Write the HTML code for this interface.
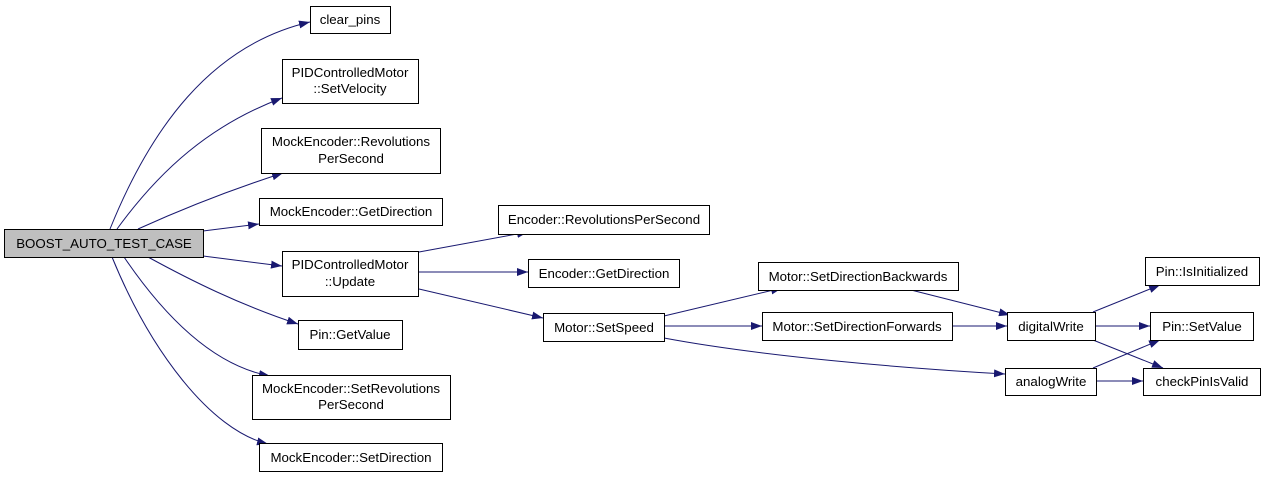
<!DOCTYPE html>
<html><head><meta charset="utf-8"><style>
html,body{margin:0;padding:0;background:#fff;}
svg{display:block;}
text{font-family:"Liberation Sans",Arial,sans-serif;font-size:13.3px;fill:#000;}
</style></head><body>
<svg width="1267" height="477" viewBox="0 0 1267 477" xmlns="http://www.w3.org/2000/svg">
<defs>
<marker id="a" markerWidth="11" markerHeight="8" refX="11" refY="4" orient="auto" markerUnits="userSpaceOnUse">
<polygon points="0,0 11,4 0,8" fill="#191970"/>
</marker>
</defs>
<g fill="none" stroke="#191970" stroke-width="1" marker-end="url(#a)">
<path d="M110,229 C150,130 210,45 310,22"/>
<path d="M117,229 C160,170 210,125 282,98"/>
<path d="M138,229 C180,210 230,190 283,173"/>
<path d="M203,231 L259,224"/>
<path d="M203,256 L282,266"/>
<path d="M148,257 C190,280 240,305 298,324"/>
<path d="M124,257 C160,310 210,365 270,376"/>
<path d="M112,257 C150,350 210,430 268,444"/>
<path d="M419,252 L528,232"/>
<path d="M419,272 L528,272"/>
<path d="M419,289 L543,318"/>
<path d="M664,316 L782,288"/>
<path d="M664,326 L762,326"/>
<path d="M664,338 C760,356 900,368 1005,374"/>
<path d="M911,290 L1010,315"/>
<path d="M952,326 L1007,326"/>
<path d="M1093,312 L1160,285"/>
<path d="M1095,326 L1150,326"/>
<path d="M1093,340 L1163,368"/>
<path d="M1093,368 L1160,340"/>
<path d="M1096,381 L1143,381"/>
</g>
<g stroke="#000" stroke-width="1" fill="#fff">
<rect x="4.5" y="229.5" width="199" height="28" fill="#bfbfbf"/>
<rect x="310.5" y="6.5" width="80" height="27"/>
<rect x="282.5" y="59.5" width="136" height="44"/>
<rect x="261.5" y="128.5" width="179" height="45"/>
<rect x="259.5" y="198.5" width="183" height="27"/>
<rect x="282.5" y="251.5" width="136" height="45"/>
<rect x="298.5" y="320.5" width="104" height="29"/>
<rect x="252.5" y="375.5" width="198" height="44"/>
<rect x="259.5" y="443.5" width="183" height="28"/>
<rect x="498.5" y="205.5" width="211" height="29"/>
<rect x="528.5" y="259.5" width="151" height="28"/>
<rect x="543.5" y="313.5" width="121" height="28"/>
<rect x="758.5" y="262.5" width="200" height="28"/>
<rect x="762.5" y="312.5" width="190" height="28"/>
<rect x="1007.5" y="312.5" width="88" height="28"/>
<rect x="1005.5" y="368.5" width="91" height="27"/>
<rect x="1145.5" y="257.5" width="114" height="28"/>
<rect x="1150.5" y="312.5" width="103" height="28"/>
<rect x="1143.5" y="368.5" width="117" height="27"/>
</g>
<g text-anchor="middle">
<text x="104" y="248">BOOST_AUTO_TEST_CASE</text>
<text x="350" y="24">clear_pins</text>
<text x="350" y="77">PIDControlledMotor</text>
<text x="350" y="93">::SetVelocity</text>
<text x="351" y="146">MockEncoder::Revolutions</text>
<text x="351" y="163">PerSecond</text>
<text x="351" y="216">MockEncoder::GetDirection</text>
<text x="350" y="269">PIDControlledMotor</text>
<text x="350" y="286">::Update</text>
<text x="350" y="339">Pin::GetValue</text>
<text x="351" y="393">MockEncoder::SetRevolutions</text>
<text x="351" y="409">PerSecond</text>
<text x="351" y="462">MockEncoder::SetDirection</text>
<text x="604" y="224">Encoder::RevolutionsPerSecond</text>
<text x="604" y="278">Encoder::GetDirection</text>
<text x="604" y="332">Motor::SetSpeed</text>
<text x="858" y="281">Motor::SetDirectionBackwards</text>
<text x="857" y="331">Motor::SetDirectionForwards</text>
<text x="1051" y="331">digitalWrite</text>
<text x="1051" y="386">analogWrite</text>
<text x="1202" y="276">Pin::IsInitialized</text>
<text x="1202" y="331">Pin::SetValue</text>
<text x="1202" y="386">checkPinIsValid</text>
</g>
</svg>
</body></html>
